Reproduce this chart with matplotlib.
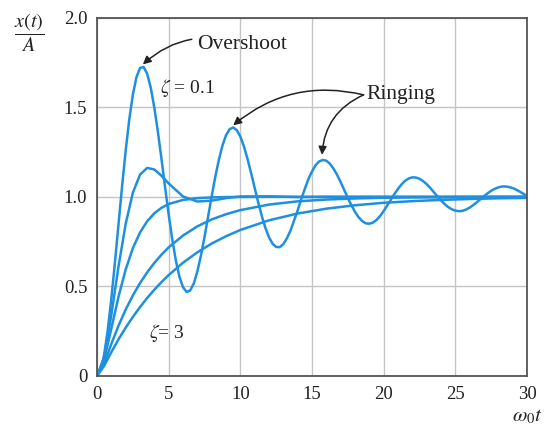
import numpy as np
import matplotlib.pyplot as plt

plt.rcParams['mathtext.fontset'] = 'stix'
plt.rcParams['font.family'] = ['Liberation Serif', 'DejaVu Serif']

# time axis (omega_0 t) for the ringing curve, step 0.25
tFine = np.arange(0, 30.25, 0.25)
# x(t)/A for zeta = 0.1
zeta01 = [0, 0.031, 0.118, 0.256, 0.431, 0.633, 0.847, 1.059, 1.258, 1.432,
          1.571, 1.668, 1.720, 1.726, 1.688, 1.610, 1.498, 1.362, 1.211, 1.054,
          0.901, 0.762, 0.645, 0.554, 0.495, 0.469, 0.477, 0.516, 0.583, 0.672,
          0.776, 0.889, 1.003, 1.111, 1.207, 1.286, 1.344, 1.378, 1.388, 1.373,
          1.337, 1.282, 1.212, 1.133, 1.050, 0.968, 0.892, 0.826, 0.774, 0.738,
          0.720, 0.719, 0.736, 0.769, 0.812, 0.868, 0.925, 0.988, 1.045, 1.100,
          1.142, 1.177, 1.198, 1.206, 1.202, 1.185, 1.158, 1.123, 1.082, 1.038,
          0.994, 0.953, 0.916, 0.886, 0.865, 0.852, 0.850, 0.856, 0.871, 0.893,
          0.921, 0.952, 0.984, 1.016, 1.045, 1.070, 1.090, 1.103, 1.109, 1.108,
          1.101, 1.088, 1.071, 1.050, 1.026, 1.003, 0.980, 0.960, 0.943, 0.931,
          0.923, 0.920, 0.922, 0.929, 0.940, 0.954, 0.970, 0.987, 1.004, 1.020,
          1.034, 1.045, 1.053, 1.058, 1.058, 1.055, 1.049, 1.040, 1.029, 1.017,
          1.005]

# coarser time axis for the smoother curves
tCoarse = [0, 0.5, 1, 1.5, 2, 2.5, 3, 3.5, 4, 4.5, 5, 6, 7, 8, 9, 10,
           12, 14, 16, 18, 20, 22, 24, 26, 28, 30]
zeta05 = [0, 0.104, 0.340, 0.611, 0.849, 1.023, 1.124, 1.162, 1.153, 1.118,
          1.075, 1.002, 0.974, 0.979, 0.993, 1.002, 1.003, 0.999, 1.000, 1.000,
          1.000, 1.000, 1.000, 1.000, 1.000, 1.000]
zeta1 = [0, 0.090, 0.264, 0.442, 0.594, 0.713, 0.801, 0.864, 0.908, 0.939,
         0.960, 0.983, 0.993, 0.997, 0.999, 0.9995, 1.000, 1.000, 1.000, 1.000,
         1.000, 1.000, 1.000, 1.000, 1.000, 1.000]
zeta2 = [0, 0.070, 0.178, 0.280, 0.370, 0.449, 0.518, 0.578, 0.631, 0.677,
         0.718, 0.784, 0.835, 0.874, 0.903, 0.926, 0.957, 0.975, 0.985, 0.991,
         0.995, 0.997, 0.998, 0.999, 0.9994, 0.9997]
zeta3 = [0, 0.056, 0.132, 0.204, 0.269, 0.329, 0.384, 0.435, 0.481, 0.524,
         0.563, 0.632, 0.690, 0.739, 0.780, 0.815, 0.869, 0.907, 0.934, 0.953,
         0.967, 0.976, 0.983, 0.988, 0.992, 0.994]

xTicks = [0, 5, 10, 15, 20, 25, 30]
yTicks = [0, 0.5, 1.0, 1.5, 2.0]
yTickLabels = ['0', '0.5', '1.0', '1.5', '2.0']

lineColor = '#1f8fe0'
textColor = '#222222'

fig = plt.figure(figsize=(5.45, 4.37), dpi=100)
ax = fig.add_axes([0.178, 0.14, 0.789, 0.819])

for vals in [zeta3, zeta2, zeta1, zeta05]:
    ax.plot(tCoarse, vals, color=lineColor, lw=1.8, solid_capstyle='round')
ax.plot(tFine, zeta01, color=lineColor, lw=1.8, solid_capstyle='round')

ax.set_xlim(0, 30)
ax.set_ylim(0, 2.0)
ax.set_xticks(xTicks)
ax.set_yticks(yTicks)
ax.set_yticklabels(yTickLabels)
ax.tick_params(length=0, labelsize=13.5, colors=textColor)
ax.tick_params(axis='x', pad=7)
ax.tick_params(axis='y', pad=7)
ax.grid(color='#c4c4c4', lw=1.0)
ax.set_axisbelow(True)
for side in ax.spines.values():
    side.set_color('#555555')
    side.set_linewidth(1.3)

# axis labels
fig.text(0.053, 0.925, r'$\dfrac{x(t)}{A}$', fontsize=14.5, ha='center', va='center', color=textColor)
ax.text(30.0, -0.23, r'$\omega_0 t$', fontsize=15, ha='center', va='center', color=textColor, clip_on=False)

# annotations
arrowStyle = dict(arrowstyle='-|>', color=textColor, lw=1.1, mutation_scale=12)
ax.annotate('Overshoot', xy=(3.2, 1.74), xytext=(7.0, 1.85), fontsize=15.5, va='center', color=textColor,
            arrowprops=dict(connectionstyle='arc3,rad=0.3', shrinkA=2, shrinkB=0, **arrowStyle))
ax.text(4.4, 1.61, r'$\zeta$ = 0.1', fontsize=14, va='center', color=textColor)
ax.text(18.8, 1.57, 'Ringing', fontsize=15.5, va='center', color=textColor)
ax.annotate('', xy=(9.5, 1.40), xytext=(18.6, 1.57),
            arrowprops=dict(connectionstyle='arc3,rad=0.25', shrinkA=0, shrinkB=0, **arrowStyle))
ax.annotate('', xy=(15.7, 1.235), xytext=(18.6, 1.57),
            arrowprops=dict(connectionstyle='arc3,rad=0.3', shrinkA=0, shrinkB=0, **arrowStyle))
ax.text(3.6, 0.24, r'$\zeta$= 3', fontsize=14, va='center', color=textColor)

plt.savefig('out.png', dpi=100)
